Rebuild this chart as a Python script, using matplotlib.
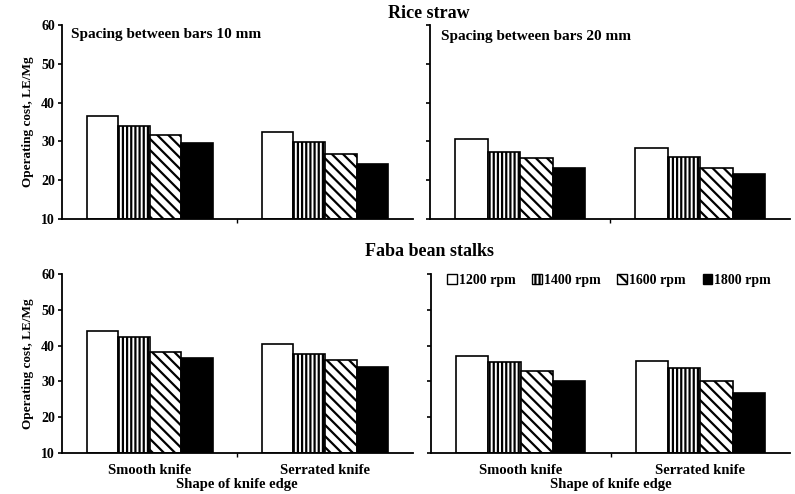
import matplotlib.pyplot as plt
from matplotlib.patches import Patch

plt.rcParams['font.family'] = ['Liberation Serif', 'DejaVu Serif']
plt.rcParams['font.weight'] = 'bold'
plt.rcParams['hatch.linewidth'] = 1.6

knives = ["Smooth knife", "Serrated knife"]
speeds = ["1200 rpm", "1400 rpm", "1600 rpm", "1800 rpm"]

rice_10 = [[36.6, 32.3], [34.0, 29.9], [31.6, 26.8], [29.7, 24.2]]
rice_20 = [[30.6, 28.2], [27.3, 25.9], [25.8, 23.1], [23.2, 21.6]]
faba_10 = [[44.2, 40.6], [42.3, 37.7], [38.2, 35.9], [36.5, 34.0]]
faba_20 = [[37.2, 35.6], [35.4, 33.9], [33.0, 30.2], [30.2, 26.7]]

hatches = ['', '||||', '\\\\\\', '']
faces = ['white', 'white', 'white', 'black']

fig = plt.figure(figsize=(7.95, 4.94), dpi=100)
ax_tl = fig.add_axes([0.078, 0.557, 0.441, 0.392])
ax_tr = fig.add_axes([0.541, 0.557, 0.453, 0.392])
ax_bl = fig.add_axes([0.078, 0.083, 0.441, 0.362])
ax_br = fig.add_axes([0.542, 0.083, 0.452, 0.362])

width = 0.18
panels = [(ax_tl, rice_10), (ax_tr, rice_20), (ax_bl, faba_10), (ax_br, faba_20)]
for ax, data in panels:
    for i, vals in enumerate(data):
        xs = [k + (i - 1.5) * width for k in range(len(knives))]
        ax.bar(xs, [v - 10 for v in vals], width, bottom=10, color=faces[i],
               edgecolor='black', hatch=hatches[i], linewidth=1.2)
    ax.set_xlim(-0.5, 1.5)
    ax.set_ylim(10, 60)
    ax.set_yticks([10, 20, 30, 40, 50, 60])
    for s in ['top', 'right']:
        ax.spines[s].set_visible(False)
    for s in ['left', 'bottom']:
        ax.spines[s].set_linewidth(1.3)
    ax.set_xticks([0.5])
    ax.set_xticklabels([])
    ax.tick_params(axis='x', length=3, width=1)
    ax.tick_params(axis='y', length=3, width=1.2, labelsize=10, pad=2)

for ax in [ax_tr, ax_br]:
    ax.set_yticklabels([])

for ax in [ax_tl, ax_bl]:
    ax.set_ylabel("Operating cost, LE/Mg", fontsize=9.5, fontweight='bold', labelpad=5)

for ax in [ax_bl, ax_br]:
    ax.set_xticks([0, 1], minor=True)
    ax.set_xticklabels(knives, minor=True)
    ax.tick_params(axis='x', which='minor', length=0, labelsize=10.5, pad=8)
    ax.set_xlabel("Shape of knife edge", fontsize=10.5, fontweight='bold', labelpad=1)

ax_tl.text(0.025, 0.95, "Spacing between bars 10 mm", transform=ax_tl.transAxes,
           fontsize=11, fontweight='bold', va='center')
ax_tr.text(0.03, 0.94, "Spacing between bars 20 mm", transform=ax_tr.transAxes,
           fontsize=11, fontweight='bold', va='center')

fig.text(0.54, 0.972, "Rice straw", ha='center', va='center', fontsize=13, fontweight='bold')
fig.text(0.54, 0.49, "Faba bean stalks", ha='center', va='center', fontsize=13, fontweight='bold')

handles = [Patch(facecolor=faces[i], edgecolor='black', hatch=hatches[i], linewidth=1)
           for i in range(len(speeds))]
ax_br.legend(handles, speeds, loc='upper left', bbox_to_anchor=(0.01, 1.07), ncol=4,
             frameon=False, fontsize=10, handlelength=0.7, handleheight=0.7,
             handletextpad=0.15, columnspacing=1.2)

fig.savefig("out.png", dpi=100)
